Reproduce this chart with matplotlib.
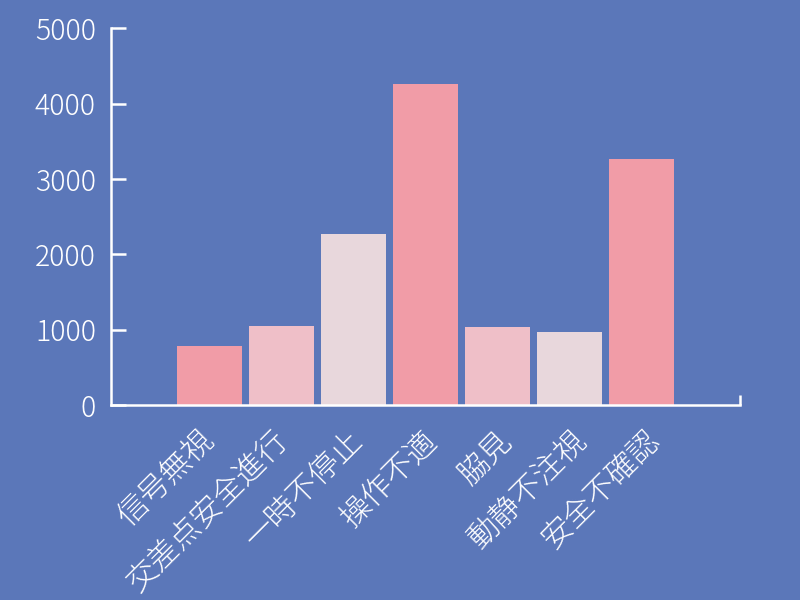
import matplotlib.pyplot as plt
import matplotlib.transforms as mtransforms

plt.rcParams['font.family'] = ['Noto Sans CJK JP', 'DejaVu Sans']
plt.rcParams['font.weight'] = 'light'

categories = ["信号無視", "交差点安全進行", "一時不停止", "操作不適", "脇見", "動静不注視", "安全不確認"]
counts = [780, 1050, 2270, 4260, 1030, 970, 3260]
bar_colors = ["#f19ca7", "#efbfc8", "#e8d7dc", "#f19ca7", "#efbfc8", "#e8d7dc", "#f19ca7"]
yticks = [0, 1000, 2000, 3000, 4000, 5000]

bg = "#5b77b9"
fig = plt.figure(figsize=(8, 6), dpi=100, facecolor=bg)
ax = fig.add_axes([0.139, 0.325, 0.786, 0.628], facecolor=bg)

x = list(range(len(categories)))
ax.bar(x, counts, width=0.9, color=bar_colors, zorder=2)

xmin, xmax = -1.37, len(categories) - 1 + 1.37
ax.set_xlim(xmin, xmax)
ax.set_ylim(0, 5000)

for s in ["top", "right"]:
    ax.spines[s].set_visible(False)
for s in ["left", "bottom"]:
    ax.spines[s].set_color("white")
    ax.spines[s].set_linewidth(1.8)
    ax.spines[s].set_zorder(3)

ax.set_yticks(yticks)
ax.set_yticklabels([str(v) for v in yticks])
ax.tick_params(axis="y", direction="in", length=11, width=1.8, colors="white",
               labelsize=20.5, pad=11)

ax.set_xticks(x)
ax.set_xticklabels(categories, rotation=45, ha="right", va="center", rotation_mode="anchor")
ax.tick_params(axis="x", which="major", length=0, colors="white", labelsize=22, pad=22)
# labels in the original drift slightly to the right of the bars
for i, lbl in enumerate(ax.get_xticklabels()):
    dx = (-0.5 + 2.4 * i) / 100
    shift = mtransforms.ScaledTranslation(dx, 0, fig.dpi_scale_trans)
    lbl.set_transform(lbl.get_transform() + shift)
ax.set_xticks([xmax], minor=True)
ax.tick_params(axis="x", which="minor", direction="in", length=7, width=1.8, color="white")

fig.savefig("out.png", dpi=100, facecolor=bg)
